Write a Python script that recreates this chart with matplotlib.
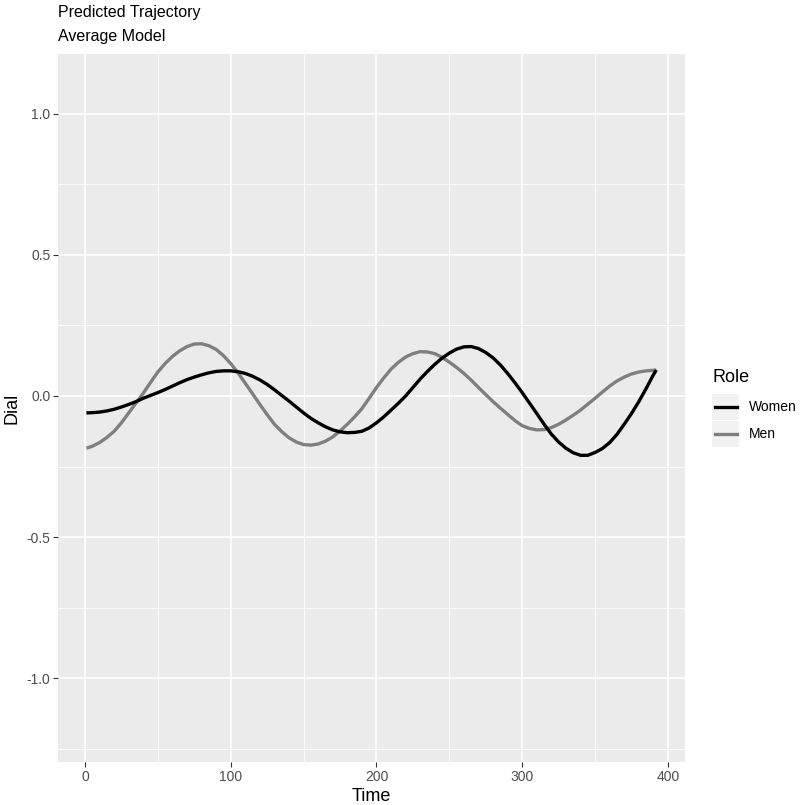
import matplotlib
matplotlib.use("Agg")
from matplotlib import pyplot as plt
from matplotlib.patches import Rectangle

plt.rcParams['font.family'] = ['Liberation Sans', 'DejaVu Sans']

# data
women_time = [1, 5, 10, 15, 20, 25, 30, 35, 40, 45, 50, 55, 60, 65, 70, 75,
              80, 85, 90, 95, 100, 105, 110, 115, 120, 125, 130, 135, 140, 145,
              150, 155, 160, 165, 170, 175, 180, 185, 190, 195, 200, 205, 210,
              215, 220, 225, 230, 235, 240, 245, 250, 255, 260, 265, 270, 275,
              280, 285, 290, 295, 300, 305, 310, 315, 320, 325, 330, 335, 340,
              345, 350, 355, 360, 365, 370, 375, 380, 385, 390, 392]
women_dial = [-0.060, -0.059, -0.057, -0.053, -0.047, -0.039, -0.030, -0.020,
              -0.008, 0.002, 0.012, 0.023, 0.035, 0.047, 0.058, 0.067, 0.075,
              0.082, 0.087, 0.089, 0.089, 0.086, 0.080, 0.070, 0.057, 0.041,
              0.022, 0.002, -0.018, -0.039, -0.060, -0.079, -0.095, -0.109,
              -0.120, -0.127, -0.130, -0.129, -0.125, -0.113, -0.095, -0.074,
              -0.050, -0.026, 0.000, 0.030, 0.060, 0.087, 0.112, 0.134, 0.152,
              0.166, 0.174, 0.175, 0.168, 0.154, 0.135, 0.110, 0.080, 0.047,
              0.012, -0.025, -0.062, -0.100, -0.135, -0.163, -0.185, -0.201,
              -0.210, -0.210, -0.200, -0.186, -0.165, -0.136, -0.100, -0.062,
              -0.020, 0.026, 0.075, 0.092]

men_time = women_time
men_dial = [-0.185, -0.178, -0.165, -0.147, -0.125, -0.095, -0.060, -0.025,
            0.010, 0.048, 0.085, 0.115, 0.140, 0.160, 0.175, 0.184, 0.185,
            0.178, 0.165, 0.143, 0.115, 0.082, 0.045, 0.008, -0.030, -0.066,
            -0.100, -0.126, -0.148, -0.163, -0.172, -0.174, -0.170, -0.160,
            -0.145, -0.124, -0.100, -0.074, -0.045, -0.008, 0.030, 0.064,
            0.095, 0.119, 0.138, 0.150, 0.157, 0.156, 0.150, 0.137, 0.120,
            0.101, 0.080, 0.056, 0.030, 0.005, -0.020, -0.043, -0.065, -0.087,
            -0.105, -0.115, -0.120, -0.119, -0.112, -0.100, -0.085, -0.068,
            -0.050, -0.029, -0.008, 0.014, 0.035, 0.053, 0.067, 0.078, 0.085,
            0.089, 0.091, 0.092]

roles = ['Women', 'Men']
role_colors = ['#000000', '#7F7F7F']
x_ticks = [0, 100, 200, 300, 400]
x_minor = [50, 150, 250, 350]
y_ticks = [-1.0, -0.5, 0.0, 0.5, 1.0]
y_minor = [-1.25, -0.75, -0.25, 0.25, 0.75, 1.25]

W, H = 800, 805
fig = plt.figure(figsize=(8.0, 8.05), dpi=100)
ax = fig.add_axes([58 / W, 1 - 762 / H, 627 / W, 708 / H])
ax.set_facecolor('#EBEBEB')
for s in ax.spines.values():
    s.set_visible(False)

for v in x_minor:
    ax.axvline(v, color='white', lw=0.6, zorder=0)
for v in y_minor:
    ax.axhline(v, color='white', lw=0.6, zorder=0)
for v in x_ticks:
    ax.axvline(v, color='white', lw=1.2, zorder=0)
for v in y_ticks:
    ax.axhline(v, color='white', lw=1.2, zorder=0)

ax.plot(men_time, men_dial, color=role_colors[1], lw=2.4, zorder=2,
        solid_joinstyle='round', solid_capstyle='butt')
ax.plot(women_time, women_dial, color=role_colors[0], lw=2.4, zorder=3,
        solid_joinstyle='round', solid_capstyle='butt')

ax.set_xlim(-18.5, 411.7)
ax.set_ylim(-1.296, 1.211)
ax.set_xticks(x_ticks)
ax.set_xticklabels([str(t) for t in x_ticks])
ax.set_yticks(y_ticks)
ax.set_yticklabels(['%.1f' % t for t in y_ticks])
ax.tick_params(length=3.5, width=0.8, color='#333333', labelcolor='#4D4D4D',
               labelsize=10, pad=2)
ax.set_xlabel('Time', fontsize=13, labelpad=3)
ax.set_ylabel('Dial', fontsize=13, labelpad=4)

fig.text(58 / W, 1 - 12 / H, 'Predicted Trajectory', fontsize=11.5, va='center')
fig.text(58 / W, 1 - 36 / H, 'Average Model', fontsize=11.5, va='center')

# legend drawn in pixel coordinates
lax = fig.add_axes([0, 0, 1, 1], zorder=5)
lax.set_xlim(0, W)
lax.set_ylim(H, 0)
lax.axis('off')
lax.text(712, 377, 'Role', fontsize=13, va='center')
for i, (name, col) in enumerate(zip(roles, role_colors)):
    top = 394 + i * 27
    lax.add_patch(Rectangle((712, top), 27, 26, facecolor='#F2F2F2',
                            edgecolor='none'))
    lax.plot([715, 737], [top + 13, top + 13], color=col, lw=2.4)
    lax.text(749, top + 13, name, fontsize=10, va='center')

fig.savefig('out.png', dpi=100)
